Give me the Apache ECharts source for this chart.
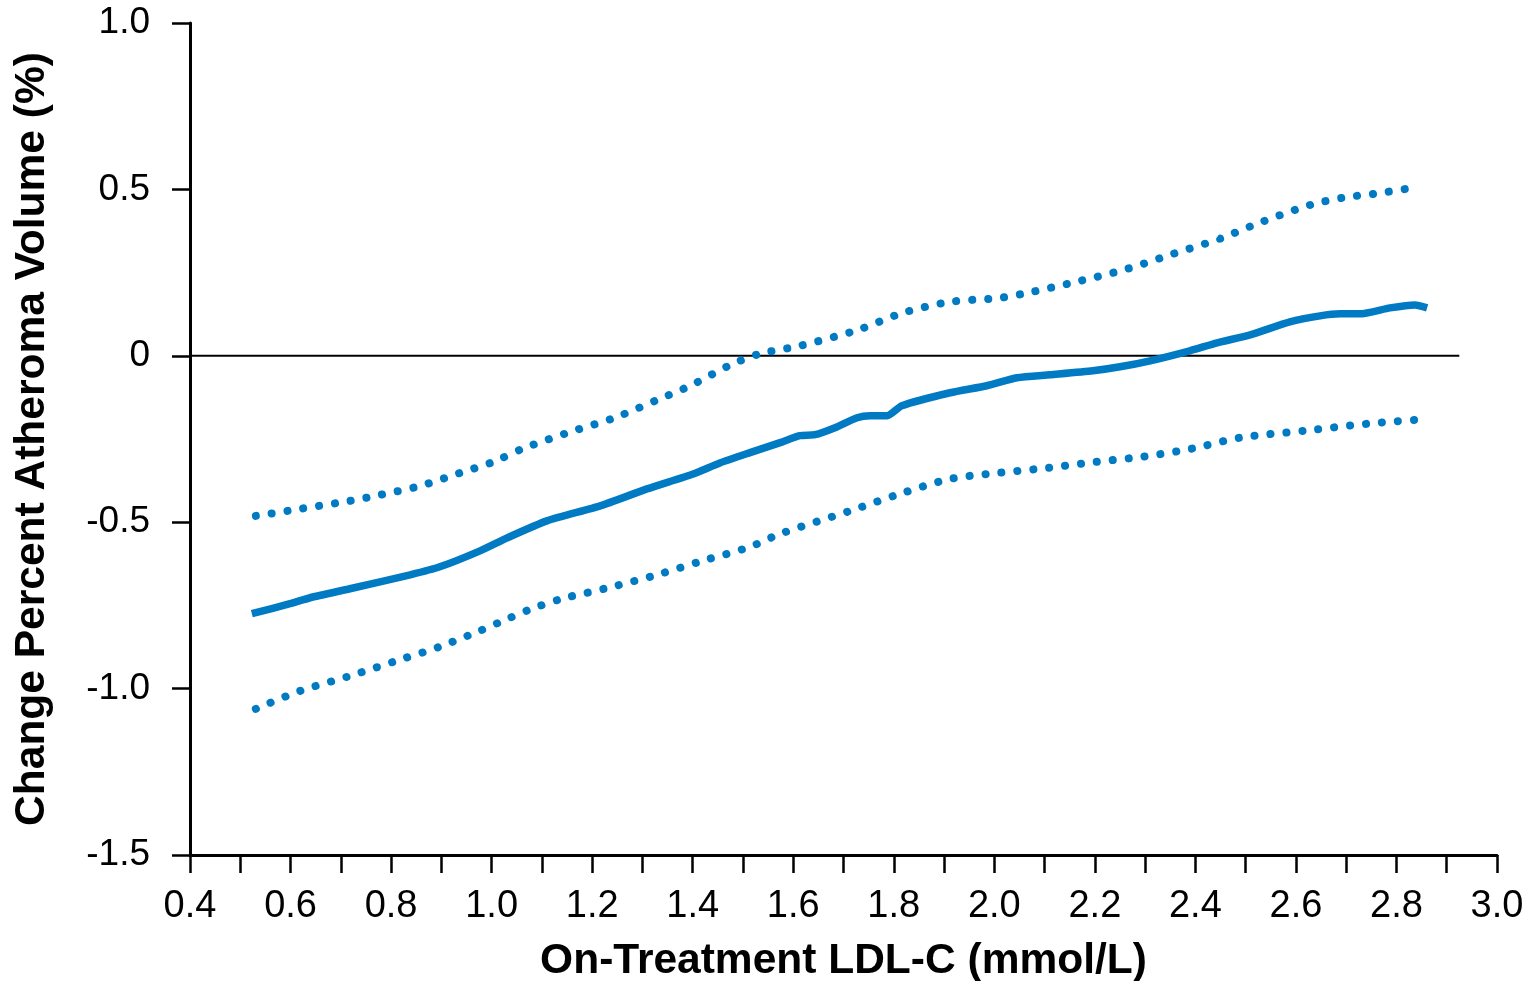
<!DOCTYPE html>
<html>
<head>
<meta charset="utf-8">
<script src="https://cdn.jsdelivr.net/npm/echarts@6/dist/echarts.min.js"></script>
<style>
html,body{margin:0;padding:0;background:#fff;}
#chart{width:1530px;height:981px;}
</style>
</head>
<body>
<div id="chart"></div>
<script>
// Data
const estimate = [
  [0.523,-0.775],[0.599,-0.745],[0.639,-0.727],[0.718,-0.700],[0.838,-0.658],[0.897,-0.634],
  [0.977,-0.586],[1.031,-0.547],[1.110,-0.496],[1.216,-0.451],[1.309,-0.400],[1.401,-0.355],
  [1.454,-0.322],[1.514,-0.291],[1.574,-0.261],[1.613,-0.240],[1.643,-0.237],[1.683,-0.216],
  [1.727,-0.186],[1.753,-0.180],[1.787,-0.180],[1.816,-0.150],[1.912,-0.111],[1.985,-0.090],
  [2.045,-0.066],[2.111,-0.057],[2.196,-0.045],[2.250,-0.033],[2.310,-0.015],[2.389,0.015],
  [2.443,0.039],[2.509,0.063],[2.588,0.102],[2.648,0.120],[2.688,0.126],[2.727,0.126],
  [2.787,0.144],[2.837,0.153],[2.861,0.144]
];
const upperCI = [
  [0.531,-0.481],[0.619,-0.460],[0.718,-0.436],[0.778,-0.418],[0.858,-0.391],[0.937,-0.352],
  [1.003,-0.319],[1.062,-0.279],[1.152,-0.231],[1.245,-0.186],[1.335,-0.129],[1.395,-0.090],
  [1.480,-0.024],[1.534,0.006],[1.613,0.030],[1.729,0.078],[1.818,0.129],[1.912,0.162],
  [2.011,0.174],[2.075,0.192],[2.170,0.225],[2.264,0.261],[2.355,0.306],[2.449,0.352],
  [2.528,0.400],[2.630,0.454],[2.694,0.475],[2.757,0.487],[2.821,0.502]
];
const lowerCI = [
  [0.531,-1.061],[0.619,-1.007],[0.718,-0.962],[0.818,-0.913],[0.897,-0.874],[0.977,-0.826],
  [1.037,-0.787],[1.080,-0.760],[1.140,-0.730],[1.232,-0.697],[1.329,-0.658],[1.420,-0.616],
  [1.514,-0.574],[1.574,-0.535],[1.713,-0.466],[1.812,-0.415],[1.912,-0.370],[2.007,-0.352],
  [2.105,-0.337],[2.200,-0.319],[2.296,-0.303],[2.393,-0.279],[2.489,-0.246],[2.618,-0.225],
  [2.743,-0.204],[2.841,-0.192]
];
const zeroLine = [[0.4,0],[2.925,0]];
const xTitle = 'On-Treatment LDL-C (mmol/L)';
const yTitle = 'Change Percent Atheroma Volume (%)';

const BLUE = '#007AC2';
const chart = echarts.init(document.getElementById('chart'));
chart.setOption({
  animation: false,
  backgroundColor: '#fff',
  grid: {left: 190, top: 23, right: 33, bottom: 126, containLabel: false, outerBoundsMode: 'none'},
  xAxis: {
    type: 'value', min: 0.4, max: 3.0, interval: 0.1,
    name: xTitle, nameLocation: 'middle', nameGap: 85,
    nameTextStyle: {fontFamily: 'Liberation Sans', fontWeight: 'bold', fontSize: 42.5, color: '#000'},
    axisLine: {show: true, onZero: false, lineStyle: {color: '#000', width: 3}},
    axisTick: {show: true, inside: false, length: 18, lineStyle: {color: '#000', width: 2.5}},
    axisLabel: {
      margin: 33, fontFamily: 'Liberation Sans', fontSize: 38, color: '#000',
      formatter: v => (Math.round(v * 10) % 2 === 0 ? (Math.round(v * 10) / 10).toFixed(1) : '')
    },
    splitLine: {show: false}
  },
  yAxis: {
    type: 'value', min: -1.5, max: 1.0, interval: 0.5,
    name: yTitle, nameLocation: 'middle', nameGap: 136,
    nameTextStyle: {fontFamily: 'Liberation Sans', fontWeight: 'bold', fontSize: 42.5, color: '#000'},
    axisLine: {show: true, onZero: false, lineStyle: {color: '#000', width: 3}},
    axisTick: {show: true, inside: false, length: 18, lineStyle: {color: '#000', width: 2.5}},
    axisLabel: {
      margin: 40, fontFamily: 'Liberation Sans', fontSize: 37, color: '#000',
      formatter: v => (Math.abs(v) < 1e-9 ? '0' : v.toFixed(1))
    },
    splitLine: {show: false}
  },
  series: [
    {type: 'line', data: zeroLine, showSymbol: false, silent: true,
     lineStyle: {color: '#000', width: 2}},
    {type: 'line', data: upperCI, showSymbol: false, smooth: 0.3,
     lineStyle: {color: BLUE, width: 8, type: [0.1, 15.9], cap: 'round'}},
    {type: 'line', data: lowerCI, showSymbol: false, smooth: 0.3,
     lineStyle: {color: BLUE, width: 8, type: [0.1, 15.9], cap: 'round'}},
    {type: 'line', data: estimate, showSymbol: false, smooth: 0.2,
     lineStyle: {color: BLUE, width: 7.5, cap: 'butt', join: 'round'}}
  ]
});
</script>
</body>
</html>
